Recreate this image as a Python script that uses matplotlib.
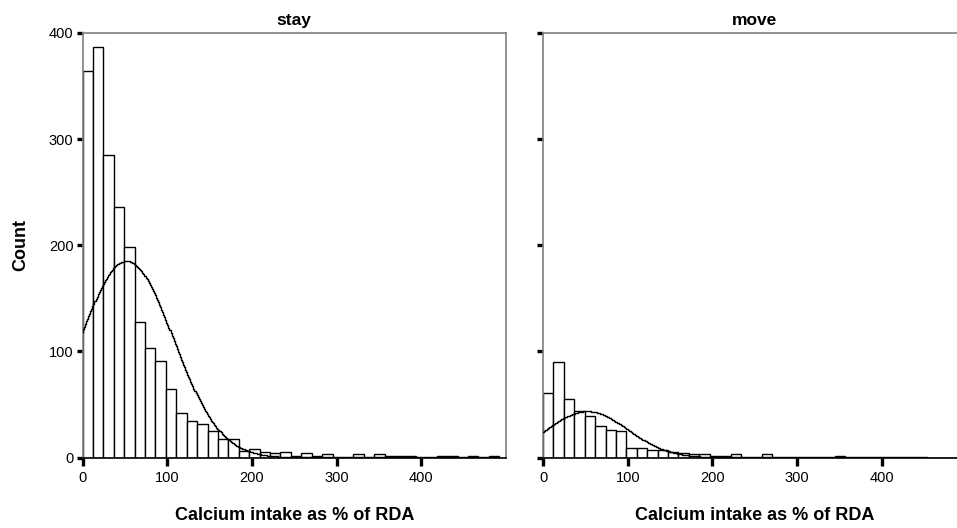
import numpy as np
import matplotlib
matplotlib.use("Agg")
import matplotlib.pyplot as plt

plt.rcParams['font.family'] = ['Liberation Sans', 'DejaVu Sans']

# Histogram bins: 40 equal-width bins over calcium intake (% of RDA)
bin_width = 12.3
n_bins = 40

# Counts per bin, group "stay"
stay_counts = [364, 387, 285, 236, 198, 128, 103, 91, 65, 42,
               34, 32, 25, 17, 17, 6, 8, 5, 4, 5,
               1, 4, 1, 3, 0, 0, 3, 0, 3, 1,
               1, 1, 0, 0, 1, 1, 0, 1, 0, 1]

# Counts per bin, group "move"
move_counts = [61, 90, 55, 44, 39, 30, 26, 25, 9, 9,
               7, 7, 5, 4, 3, 3, 1, 1, 3, 0,
               0, 3, 0, 0, 0, 0, 0, 0, 1, 0,
               0, 0, 0, 0, 0, 0, 0, 0, 0, 0]

# Normal curve parameters (mean, sd) for each group
stay_mean, stay_sd = 52.0, 55.0
move_mean, move_sd = 52.0, 48.0

panel_titles = ["stay", "move"]
x_ticks = [0, 100, 200, 300, 400]
y_ticks = [0, 100, 200, 300, 400]

edges = np.arange(n_bins + 1) * bin_width

W, H = 957, 528
fig = plt.figure(figsize=(W / 100, H / 100), dpi=100)

ax_w = 423.5 / W
ax_b = 1 - 457.5 / H
ax_h = (457.5 - 33) / H
ax_left = fig.add_axes([82.5 / W, ax_b, ax_w, ax_h])
ax_right = fig.add_axes([543 / W, ax_b, ax_w, ax_h])

spine_gray = '#808080'


def draw_panel(ax, counts, mean, sd, title, show_ylabels):
    counts = np.asarray(counts, dtype=float)
    ax.bar(edges[:-1], counts, width=bin_width, align='edge',
           facecolor='white', edgecolor='black', linewidth=1.0, zorder=2)

    # Fitted normal curve scaled to counts, drawn as fine steps
    n = counts.sum()
    xs = np.arange(0, edges[-1] + 0.01, bin_width / 10)
    ys = n * bin_width * np.exp(-0.5 * ((xs - mean) / sd) ** 2) / (sd * np.sqrt(2 * np.pi))
    ax.plot(xs, ys, color='black', linewidth=1.0, drawstyle='steps-mid', zorder=3)

    ax.set_xlim(0, 500)
    ax.set_ylim(0, 400)
    ax.set_xticks(x_ticks)
    ax.set_yticks(y_ticks)
    ax.tick_params(axis='x', direction='out', length=5.5, width=2.4,
                   color='black', labelsize=10.5, pad=4)
    ax.tick_params(axis='y', direction='out', length=4.5, width=2.4,
                   color='black', labelsize=10.5, pad=2)
    if not show_ylabels:
        ax.set_yticklabels([])

    for side in ['top', 'left', 'right']:
        ax.spines[side].set_color(spine_gray)
        ax.spines[side].set_linewidth(1.2)
    ax.spines['bottom'].set_color('black')
    ax.spines['bottom'].set_linewidth(1.2)

    ax.set_title(title, fontsize=12.5, fontweight='bold', pad=6)
    ax.set_xlabel('Calcium intake as % of RDA', fontsize=13,
                  fontweight='bold', labelpad=16)


draw_panel(ax_left, stay_counts, stay_mean, stay_sd, panel_titles[0], True)
draw_panel(ax_right, move_counts, move_mean, move_sd, panel_titles[1], False)
ax_left.set_ylabel('Count', fontsize=13, fontweight='bold', labelpad=14)

fig.savefig('out.png', dpi=100)
